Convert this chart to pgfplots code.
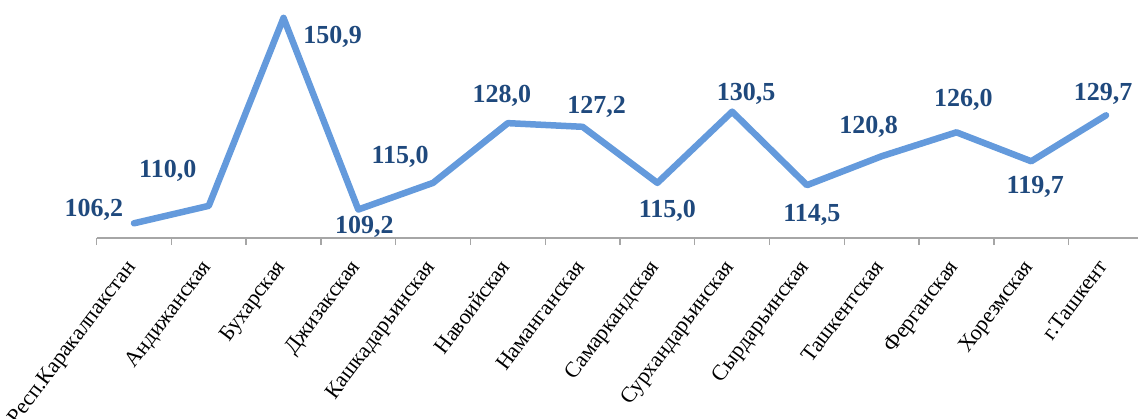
\documentclass[border=0pt]{standalone}
\usepackage{fontspec}
\setmainfont{Liberation Serif}
\usepackage{pgfplots}
\usepackage{pgfplotstable}
\pgfplotsset{compat=1.18}

\definecolor{lineblue}{RGB}{100,154,220}
\definecolor{labelblue}{RGB}{31,73,125}
\definecolor{axisgray}{RGB}{166,166,166}

% x, value, label offset (dx, dy)
\pgfplotstableread{
x y dx dy
0 106.2 -40 13
1 110.0 -41 35
2 150.9 49 -19
3 109.2 6 -17
4 115.0 -33 26
5 128.0 -6 27
6 127.2 14 20
7 115.0 10 -28
8 130.5 14 18
9 114.5 5 -30
10 120.8 -13 29
11 126.0 7 32
12 119.7 4 -26
13 129.7 -3 21
}\datatable

\begin{document}
\begin{tikzpicture}
\begin{axis}[
    name=ax,
    scale only axis,
    width=1046.8pt,
    height=238pt,
    xmin=-0.5, xmax=13.5,
    ymin=103, ymax=154.8,
    clip=false,
    axis y line=none,
    axis x line*=bottom,
    x axis line style={axisgray, line width=1.5pt},
    xtick={0,...,13},
    minor xtick={-0.5,0.5,...,13.5},
    major tick length=0pt,
    minor tick length=7pt,
    tick align=outside,
    tick style={axisgray, line width=1.3pt},
    xticklabels={Респ.Каракалпакстан, Андижанская, Бухарская, Джизакская,
        Кашкадарьинская, Навоийская, Наманганская, Самаркандская,
        Сурхандарьинская, Сырдарьинская, Ташкентская, Ферганская,
        Хорезмская, г.Ташкент},
    xticklabel style={xshift=-9pt, yshift=-20pt, rotate=53, anchor=north east,
        inner sep=0pt, font=\fontsize{22}{24}\selectfont},
]
\addplot[lineblue, line width=6.5pt, line join=round, line cap=round, mark=none,
    nodes near coords={\pgfmathprintnumber[fixed, fixed zerofill, precision=1,
        use comma, assume math mode=true]{\pgfplotspointmeta}},
    point meta=y,
    visualization depends on={\thisrow{dx} \as \dx},
    visualization depends on={\thisrow{dy} \as \dy},
    every node near coord/.append style={anchor=center, xshift=\dx pt,
        yshift=\dy pt, text=labelblue, inner sep=0pt,
        font=\fontsize{26}{28}\selectfont\bfseries},
] table[x=x, y=y] {\datatable};
\end{axis}
\pgfresetboundingbox
\path[use as bounding box] ([xshift=-96.6pt, yshift=-180pt]ax.south west)
    rectangle ([xshift=1041.4pt, yshift=238pt]ax.south west);
\end{tikzpicture}
\end{document}
